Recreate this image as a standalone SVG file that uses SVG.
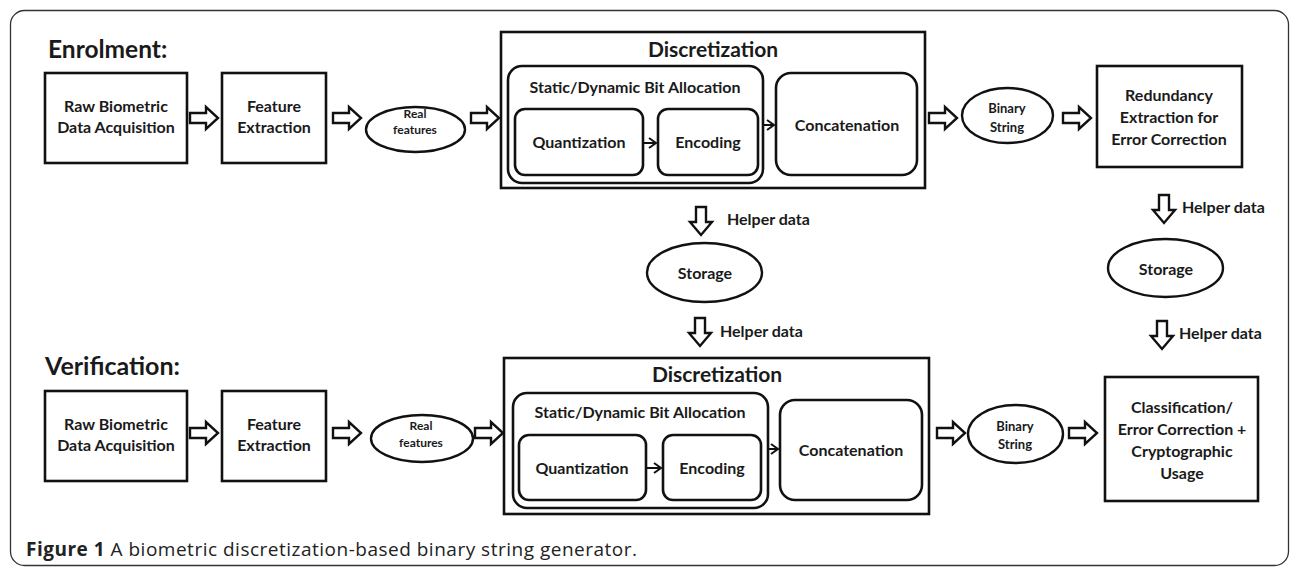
<svg xmlns="http://www.w3.org/2000/svg" width="1290" height="567" viewBox="0 0 1290 567">
<style>
  .t{font-family:Lato,"Open Sans","DejaVu Sans",sans-serif;font-weight:bold;fill:#1a1a1a;text-anchor:middle}
  .l{text-anchor:start}
  .box{fill:#fff;stroke:#111;stroke-width:2.6}
  .rbox{fill:none;stroke:#111;stroke-width:2.6}
  .el{fill:#fff;stroke:#111;stroke-width:2.4}
  .blk{fill:#fff;stroke:#111;stroke-width:2.4;stroke-linejoin:miter}
  .thin{fill:none;stroke:#111;stroke-width:2}
  .cap{font-family:"Open Sans","Liberation Sans",sans-serif;fill:#222;font-size:19px;letter-spacing:0.5px}
</style>
<defs>
  <path id="ra" d="M0,-5 H16 V-11 L28,0 L16,11 V5 H0 Z"/>
  <path id="da" d="M-5,0 V15 H-11 L0,28 L11,15 H5 V0 Z"/>
  <marker id="chev" markerWidth="10" markerHeight="12" refX="8" refY="6" orient="auto" markerUnits="userSpaceOnUse">
    <path d="M1,1 L8,6 L1,11" fill="none" stroke="#111" stroke-width="2"/>
  </marker>
</defs>

<rect x="10.5" y="10.5" width="1278" height="555" rx="14" fill="#fff" stroke="#333" stroke-width="1.3"/>

<text class="t l" x="48" y="58" font-size="24.5">Enrolment:</text>
<text class="t l" x="45" y="375" font-size="25">Verification:</text>

<!-- Enrolment row -->
<g id="e-raw">
  <rect class="box" x="45" y="73" width="142" height="90"/>
  <text class="t" x="116" y="112" font-size="16">Raw Biometric</text>
  <text class="t" x="116" y="133" font-size="16">Data Acquisition</text>
</g>
<g id="e-feat">
  <rect class="box" x="222" y="73" width="104" height="90"/>
  <text class="t" x="274" y="112" font-size="16">Feature</text>
  <text class="t" x="274" y="133" font-size="16">Extraction</text>
</g>
<g id="e-real">
  <ellipse class="el" cx="415.5" cy="129.5" rx="49.5" ry="22.5"/>
  <text class="t" x="415" y="118" font-size="12">Real</text>
  <text class="t" x="415" y="134" font-size="12">features</text>
</g>
<g id="e-disc">
  <rect class="box" x="501" y="32" width="424" height="156"/>
  <text class="t" x="713" y="57" font-size="21">Discretization</text>
  <rect class="rbox" x="508" y="66" width="255" height="117" rx="14"/>
  <text class="t" x="635" y="93" font-size="16">Static/Dynamic Bit Allocation</text>
  <g id="e-quant">
    <rect class="rbox" x="515" y="109" width="128" height="66" rx="10"/>
    <text class="t" x="579" y="148" font-size="16">Quantization</text>
  </g>
  <g id="e-enc">
    <rect class="rbox" x="658" y="109" width="100" height="66" rx="10"/>
    <text class="t" x="708" y="148" font-size="16">Encoding</text>
  </g>
  <g id="e-concat">
    <rect class="rbox" x="776" y="73" width="141" height="102" rx="15"/>
    <text class="t" x="847" y="131" font-size="16">Concatenation</text>
  </g>
</g>
<g id="e-bin">
  <ellipse class="el" cx="1007.5" cy="115.5" rx="45.5" ry="27.5"/>
  <text class="t" x="1007" y="113" font-size="13">Binary</text>
  <text class="t" x="1007" y="132" font-size="13">String</text>
</g>
<g id="e-red">
  <rect class="box" x="1097" y="66" width="145" height="101"/>
  <text class="t" x="1169" y="101" font-size="16">Redundancy</text>
  <text class="t" x="1169" y="123" font-size="16">Extraction for</text>
  <text class="t" x="1169" y="145" font-size="16">Error Correction</text>
</g>

<!-- Storage -->
<g id="s1">
  <ellipse class="el" cx="704.5" cy="272.5" rx="57.5" ry="29.5"/>
  <text class="t" x="705" y="279" font-size="16">Storage</text>
</g>
<g id="s2">
  <ellipse class="el" cx="1165.5" cy="268" rx="57.5" ry="29"/>
  <text class="t" x="1166" y="275" font-size="16">Storage</text>
</g>

<!-- Verification row -->
<g id="v-raw">
  <rect class="box" x="45" y="391" width="142" height="90"/>
  <text class="t" x="116" y="430" font-size="16">Raw Biometric</text>
  <text class="t" x="116" y="451" font-size="16">Data Acquisition</text>
</g>
<g id="v-feat">
  <rect class="box" x="222" y="391" width="104" height="90"/>
  <text class="t" x="274" y="430" font-size="16">Feature</text>
  <text class="t" x="274" y="451" font-size="16">Extraction</text>
</g>
<g id="v-real">
  <ellipse class="el" cx="422" cy="438.5" rx="51" ry="23.5"/>
  <text class="t" x="421" y="430" font-size="12">Real</text>
  <text class="t" x="421" y="447" font-size="12">features</text>
</g>
<g id="v-disc">
  <rect class="box" x="504" y="358" width="425" height="156"/>
  <text class="t" x="717" y="382" font-size="21">Discretization</text>
  <rect class="rbox" x="513" y="393" width="255" height="115" rx="14"/>
  <text class="t" x="640" y="418" font-size="16">Static/Dynamic Bit Allocation</text>
  <g id="v-quant">
    <rect class="rbox" x="519" y="435" width="127" height="65" rx="10"/>
    <text class="t" x="582" y="474" font-size="16">Quantization</text>
  </g>
  <g id="v-enc">
    <rect class="rbox" x="663" y="435" width="98" height="65" rx="10"/>
    <text class="t" x="712" y="474" font-size="16">Encoding</text>
  </g>
  <g id="v-concat">
    <rect class="rbox" x="780" y="400" width="142" height="100" rx="15"/>
    <text class="t" x="851" y="456" font-size="16">Concatenation</text>
  </g>
</g>
<g id="v-bin">
  <ellipse class="el" cx="1015.5" cy="434" rx="47.5" ry="29"/>
  <text class="t" x="1015" y="431" font-size="13">Binary</text>
  <text class="t" x="1015" y="449" font-size="13">String</text>
</g>
<g id="v-cls">
  <rect class="box" x="1105" y="377" width="153" height="124"/>
  <text class="t" x="1182" y="413" font-size="16">Classification/</text>
  <text class="t" x="1182" y="435" font-size="16">Error Correction +</text>
  <text class="t" x="1182" y="457" font-size="16">Cryptographic</text>
  <text class="t" x="1182" y="479" font-size="16">Usage</text>
</g>

<!-- Connectors -->
<g id="connectors">
  <use href="#ra" class="blk" x="190" y="118"/>
  <use href="#ra" class="blk" x="333" y="118"/>
  <use href="#ra" class="blk" x="471" y="118"/>
  <use href="#ra" class="blk" x="929" y="118"/>
  <use href="#ra" class="blk" x="1063" y="118"/>
  <line class="thin" x1="643" y1="143" x2="656" y2="143" marker-end="url(#chev)"/>
  <line class="thin" x1="763" y1="125" x2="774" y2="125" marker-end="url(#chev)"/>

  <use href="#ra" class="blk" x="190" y="433"/>
  <use href="#ra" class="blk" x="333" y="433"/>
  <use href="#ra" class="blk" x="475" y="433"/>
  <use href="#ra" class="blk" x="937" y="433"/>
  <use href="#ra" class="blk" x="1069" y="433"/>
  <line class="thin" x1="646" y1="468" x2="661" y2="468" marker-end="url(#chev)"/>
  <line class="thin" x1="768" y1="449" x2="778" y2="449" marker-end="url(#chev)"/>

  <use href="#da" class="blk" x="701" y="207"/>
  <use href="#da" class="blk" x="700" y="318"/>
  <use href="#da" class="blk" x="1164" y="195"/>
  <use href="#da" class="blk" x="1162" y="321"/>
  <text class="t l" x="727" y="225" font-size="16">Helper data</text>
  <text class="t l" x="720" y="337" font-size="16">Helper data</text>
  <text class="t l" x="1182" y="213" font-size="16">Helper data</text>
  <text class="t l" x="1179" y="339" font-size="16">Helper data</text>
</g>

<text class="cap" x="26" y="556"><tspan font-weight="bold">Figure 1</tspan> A biometric discretization-based binary string generator.</text>
</svg>
